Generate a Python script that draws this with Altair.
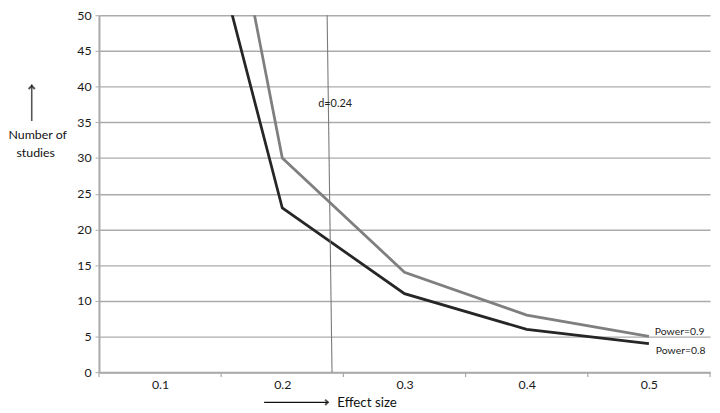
import altair as alt
import pandas as pd

# ---- data ----
effect_sizes = [0.1, 0.2, 0.3, 0.4, 0.5]
power_08 = [89, 23, 11, 6, 4]
power_09 = [118, 30, 14, 8, 5]
series_names = ["Power=0.8", "Power=0.9"]
x_tick_labels = [0.1, 0.2, 0.3, 0.4, 0.5]
x_tick_marks = [0.05, 0.15, 0.25, 0.35, 0.45, 0.55]
y_ticks = [0, 5, 10, 15, 20, 25, 30, 35, 40, 45, 50]
d_line_x = [0.2367, 0.2407]
d_line_y = [50, 0]
d_label = "d=0.24"

FONT = "Lato"
W, H = 618, 361

lines_df = pd.DataFrame(
    [{"series": series_names[0], "effect": e, "n": v} for e, v in zip(effect_sizes, power_08)]
    + [{"series": series_names[1], "effect": e, "n": v} for e, v in zip(effect_sizes, power_09)]
)
d_df = pd.DataFrame({"x": d_line_x, "y": d_line_y, "o": [0, 1]})
lab08_df = pd.DataFrame({"series": [series_names[0]], "effect": [effect_sizes[-1]], "n": [power_08[-1]]})
lab09_df = pd.DataFrame({"series": [series_names[1]], "effect": [effect_sizes[-1]], "n": [power_09[-1]]})
ticks_df = pd.DataFrame({"x": x_tick_marks})

xscale = alt.Scale(domain=[0.05, 0.55], nice=False, zero=False)
yscale = alt.Scale(domain=[0, 50], nice=False)

x_axis = alt.Axis(values=x_tick_labels, format=".1f", ticks=False, grid=False,
                  domainColor="#a9a9a9", domainWidth=2, labelPadding=7,
                  labelFont=FONT, labelFontSize=12.5, labelColor="#1a1a1a",
                  labelOverlap=False, title=None)
y_axis = alt.Axis(values=y_ticks, grid=True, gridColor="#ababab", gridWidth=1.4,
                  domainColor="#a9a9a9", domainWidth=2, tickColor="#a9a9a9",
                  tickSize=4, labelPadding=4, labelFont=FONT, labelFontSize=12.5,
                  labelColor="#1a1a1a", labelOverlap=False, format="d", title=None)


def X(field):
    return alt.X(field, scale=xscale, axis=x_axis)


def Y(field):
    return alt.Y(field, scale=yscale, axis=y_axis)


lines = alt.Chart(lines_df).mark_line(strokeWidth=2.8, clip=True).encode(
    x=X("effect:Q"),
    y=Y("n:Q"),
    color=alt.Color("series:N", scale=alt.Scale(domain=series_names, range=["#262626", "#7f7f7f"]),
                    legend=None),
)

dline = alt.Chart(d_df).mark_line(color="#7a7a7a", strokeWidth=1.1).encode(
    x=X("x:Q"), y=Y("y:Q"), order="o:Q"
)

dtext = alt.Chart(pd.DataFrame({"x": [0.24], "y": [37.5], "t": [d_label]})).mark_text(
    font=FONT, fontSize=11, color="#222", align="center", dx=4
).encode(x=X("x:Q"), y=Y("y:Q"), text="t:N")

lab08 = alt.Chart(lab08_df).mark_text(
    font=FONT, fontSize=10.5, color="#222", align="left", dx=7, dy=7, baseline="middle"
).encode(x=X("effect:Q"), y=Y("n:Q"), text="series:N")

lab09 = alt.Chart(lab09_df).mark_text(
    font=FONT, fontSize=10.5, color="#222", align="left", dx=6, dy=-4, baseline="middle"
).encode(x=X("effect:Q"), y=Y("n:Q"), text="series:N")

xticks = alt.Chart(ticks_df).mark_rule(color="#a9a9a9", strokeWidth=1.2, clip=False).encode(
    x=X("x:Q"), y=alt.value(H), y2=alt.value(H + 5)
)

# ---- axis titles with arrows (annotation positions in pixels) ----
ann_text = pd.DataFrame({
    "t": ["Number of", "studies", "Effect size"],
    "px": [-62, -64, 241],
    "py": [121, 139, 392],
})
ytitle = alt.Chart(ann_text.iloc[:2]).mark_text(
    font=FONT, fontSize=12.5, color="#111", align="center", baseline="middle"
).encode(x=alt.X("px:Q", scale=None), y=alt.Y("py:Q", scale=None), text="t:N")
xtitle = alt.Chart(ann_text.iloc[2:]).mark_text(
    font=FONT, fontSize=13.5, color="#111", align="left", baseline="middle"
).encode(x=alt.X("px:Q", scale=None), y=alt.Y("py:Q", scale=None), text="t:N")

arrow_up = alt.Chart(pd.DataFrame({"a": [0]})).mark_rule(color="#555", strokeWidth=1.6).encode(
    x=alt.value(-68), y=alt.value(70), y2=alt.value(107)
)
arrow_up_head = alt.Chart(pd.DataFrame({"a": [0]})).mark_point(
    shape="M-1,1L0,0L1,1", filled=False, stroke="#111", strokeWidth=2, size=40
).encode(x=alt.value(-68), y=alt.value(71.5))

arrow_right = alt.Chart(pd.DataFrame({"a": [0]})).mark_rule(color="#111", strokeWidth=1.2).encode(
    x=alt.value(167), x2=alt.value(232), y=alt.value(391.5)
)
arrow_right_head = alt.Chart(pd.DataFrame({"a": [0]})).mark_point(
    shape="M-1,-1L0,0L-1,1", filled=False, stroke="#111", strokeWidth=2, size=30
).encode(x=alt.value(231.5), y=alt.value(391.5))

chart = alt.layer(
    lines, dline, dtext, lab08, lab09, xticks,
    ytitle, xtitle, arrow_up, arrow_up_head, arrow_right, arrow_right_head,
).properties(
    width=W, height=H,
    autosize=alt.AutoSizeParams(type="none"),
    padding={"left": 92, "top": 5, "right": 2, "bottom": 40},
    background="white",
).configure_view(stroke=None)

chart.save("out.html", embed_options={"renderer": "svg", "actions": False})
